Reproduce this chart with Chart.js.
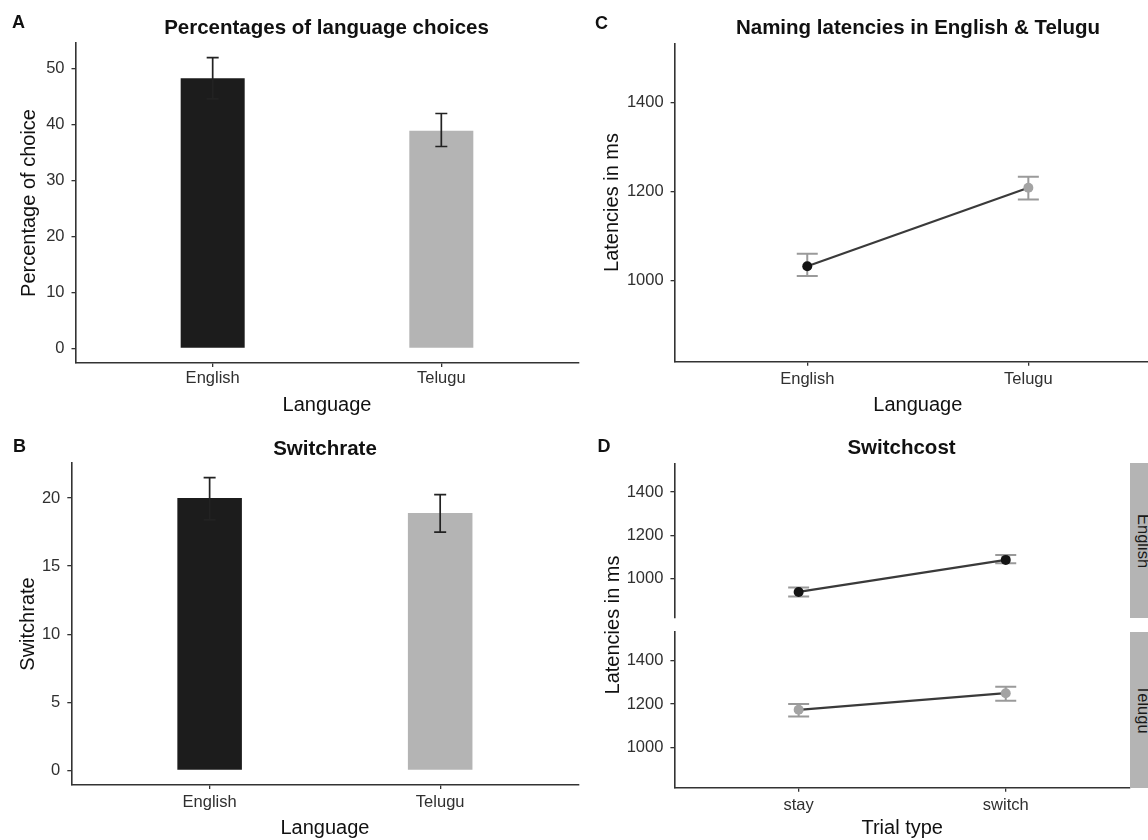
<!DOCTYPE html>
<html lang="en">
<head>
<meta charset="UTF-8">
<title>Language choices, switchrate and latencies</title>
<script src="https://cdn.jsdelivr.net/npm/chart.js"></script>
<style>
  html, body { margin: 0; padding: 0; background: #fff; overflow: hidden; }
  #fig { position: relative; width: 1148px; height: 840px; overflow: hidden;
         font-family: 'Liberation Sans', Arial, sans-serif; color: #111; }
  #fig canvas { position: absolute; }
  .lbl { position: absolute; transform: translate(-50%, -50%); line-height: 1; white-space: nowrap; }
  .letter { font-size: 18px; font-weight: bold; }
  .title { font-size: 20.5px; font-weight: bold; }
  .ytitle { font-size: 20px; transform: translate(-50%, -50%) rotate(-90deg); }
  .strip { position: absolute; left: 1130px; width: 27px; background: #b4b4b4;
           display: flex; align-items: center; justify-content: center; }
  .strip span { writing-mode: vertical-rl; font-size: 16.5px; color: #1a1a1a; line-height: 1; }
</style>
</head>
<body>
<div id="fig">
  <canvas id="cA" width="600" height="420" style="left:0;top:0"></canvas>
  <canvas id="cB" width="600" height="420" style="left:0;top:420px"></canvas>
  <canvas id="cC" width="600" height="420" style="left:574px;top:0"></canvas>
  <canvas id="cD1" width="574" height="220" style="left:574px;top:420px"></canvas>
  <canvas id="cD2" width="574" height="228" style="left:574px;top:612px"></canvas>

  <div class="lbl letter" style="left:18.5px;top:21.5px">A</div>
  <div class="lbl letter" style="left:19.5px;top:446px">B</div>
  <div class="lbl letter" style="left:601.5px;top:22.5px">C</div>
  <div class="lbl letter" style="left:604px;top:446px">D</div>

  <div class="lbl title" style="left:326.5px;top:26.5px">Percentages of language choices</div>
  <div class="lbl title" style="left:325px;top:447.5px">Switchrate</div>
  <div class="lbl title" style="left:918px;top:26.5px">Naming latencies in English &amp; Telugu</div>
  <div class="lbl title" style="left:901.5px;top:447px">Switchcost</div>

  <div class="lbl ytitle" style="left:612.4px;top:625px">Latencies in ms</div>

  <div class="strip" style="top:463.3px;height:154.7px"><span>English</span></div>
  <div class="strip" style="top:631.5px;height:156.2px"><span>Telugu</span></div>
</div>

<script>
// A - percentage of language choices
const languages = ['English', 'Telugu'];
const choicePct = [48.3, 38.9];
const choiceLow = [44.6, 36.1];
const choiceHigh = [52.0, 42.0];

// B - switchrate
const switchRate = [20.0, 18.9];
const switchLow = [18.4, 17.5];
const switchHigh = [21.5, 20.25];

// C - naming latencies
const namingRT = [1032, 1208];
const namingLow = [1010, 1182];
const namingHigh = [1060, 1233];

// D - switchcost per language
const trialTypes = ['stay', 'switch'];
const costEnglish = [938, 1086];
const costEnglishLow = [917, 1071];
const costEnglishHigh = [958, 1109];
const costTelugu = [1174, 1250];
const costTeluguLow = [1143, 1216];
const costTeluguHigh = [1201, 1280];

// tick labels
const pctTicks = [0, 10, 20, 30, 40, 50];
const rateTicks = [0, 5, 10, 15, 20];
const latTicks = [1000, 1200, 1400];

const barColors = ['#1c1c1c', '#b4b4b4'];
const pointColors = ['#141414', '#a3a3a3'];

Chart.defaults.font.family = "'Liberation Sans', Arial, sans-serif";

// error bars drawn from low/high arrays through the chart scales
const errorBars = {
  id: 'errorBars',
  beforeDatasetsDraw(chart, args, o) { if (o.layer === 'below') drawErrors(chart, o); },
  afterDatasetsDraw(chart, args, o) { if (o.layer !== 'below') drawErrors(chart, o); }
};
function drawErrors(chart, o) {
  const { ctx, scales: { x, y } } = chart;
  ctx.save();
  ctx.strokeStyle = o.color;
  ctx.lineWidth = o.width;
  o.low.forEach((lo, i) => {
    const px = x.getPixelForValue(i + 1);
    const p1 = y.getPixelForValue(lo);
    const p2 = y.getPixelForValue(o.high[i]);
    const h = o.cap / 2;
    ctx.beginPath();
    ctx.moveTo(px, p1); ctx.lineTo(px, p2);
    ctx.moveTo(px - h, p1); ctx.lineTo(px + h, p1);
    ctx.moveTo(px - h, p2); ctx.lineTo(px + h, p2);
    ctx.stroke();
  });
  ctx.restore();
}

const axisGrid = { drawOnChartArea: false, drawTicks: true, tickLength: 4, color: '#333', lineWidth: 1.3, offset: false };
const axisBorder = { display: true, color: '#333', width: 1.6 };

function xScale(labels, o) {
  const s = {
    type: 'linear', min: 0.4, max: 2.6, offset: false,
    display: o.display !== false,
    afterBuildTicks: sc => { sc.ticks = labels.map((_, i) => ({ value: i + 1 })); },
    ticks: { callback: (v, i) => labels[i], font: { size: 16.5 }, color: '#303030', padding: o.tickPad, maxRotation: 0 },
    grid: axisGrid,
    border: axisBorder,
    title: { display: !!o.title, text: o.title, font: { size: 20 }, color: '#111', padding: { top: 0, bottom: o.titlePad } }
  };
  if (o.display !== false) s.afterFit = sc => { sc.height = o.height; };
  return s;
}

function yScale(tickVals, min, max, o) {
  return {
    type: 'linear', min, max,
    afterBuildTicks: sc => { sc.ticks = tickVals.map(v => ({ value: v })); },
    afterFit: sc => { sc.width = o.width; },
    ticks: { callback: v => String(v), font: { size: 16.5 }, color: '#303030', padding: 7 },
    grid: axisGrid,
    border: axisBorder,
    title: { display: !!o.title, text: o.title, font: { size: 20 }, color: '#111', padding: { top: o.titlePad, bottom: 0 } }
  };
}

function opts(padding, x, y, err) {
  return {
    responsive: false, animation: false, events: [],
    layout: { padding },
    plugins: { legend: { display: false }, tooltip: { enabled: false }, errorBars: err },
    scales: { x, y }
  };
}

function barData(vals) {
  return { datasets: [{ data: vals.map((v, i) => ({ x: i + 1, y: v })), backgroundColor: barColors,
    borderWidth: 0, barPercentage: 0.28, categoryPercentage: 1 }] };
}
function lineData(vals, colors) {
  return { datasets: [{ data: vals.map((v, i) => ({ x: i + 1, y: v })), borderColor: '#3a3a3a', borderWidth: 2.2,
    tension: 0, pointRadius: 5, pointBorderWidth: 0, pointBackgroundColor: colors, pointBorderColor: colors }] };
}

// A
new Chart(document.getElementById('cA'), {
  type: 'bar',
  data: barData(choicePct),
  options: opts({ top: 43, right: 21.5, left: 0, bottom: 0 },
    xScale(languages, { height: 57, tickPad: 2, title: 'Language', titlePad: 3 }),
    yScale(pctTicks, -2.6, 54.6, { width: 75.5, title: 'Percentage of choice', titlePad: 17 }),
    { low: choiceLow, high: choiceHigh, color: '#222', width: 1.7, cap: 12 }),
  plugins: [errorBars]
});

// B
new Chart(document.getElementById('cB'), {
  type: 'bar',
  data: barData(switchRate),
  options: opts({ top: 43, right: 21.5, left: 0, bottom: 0 },
    xScale(languages, { height: 55, tickPad: 4, title: 'Language', titlePad: 0 }),
    yScale(rateTicks, -1.075, 22.575, { width: 71.3, title: 'Switchrate', titlePad: 16.5 }),
    { low: switchLow, high: switchHigh, color: '#222', width: 1.7, cap: 12 }),
  plugins: [errorBars]
});

// C
new Chart(document.getElementById('cC'), {
  type: 'line',
  data: lineData(namingRT, pointColors),
  options: opts({ top: 43.3, right: 13, left: 0, bottom: 0 },
    xScale(languages, { height: 58.3, tickPad: 3.4, title: 'Language', titlePad: 3 }),
    yScale(latTicks, 817.5, 1532.5, { width: 100.6, title: 'Latencies in ms', titlePad: 26.4 }),
    { low: namingLow, high: namingHigh, color: '#9a9a9a', width: 2, cap: 21, layer: 'below' }),
  plugins: [errorBars]
});

// D - English facet
new Chart(document.getElementById('cD1'), {
  type: 'line',
  data: lineData(costEnglish, pointColors[0]),
  options: opts({ top: 43.3, right: 18, left: 0, bottom: 22 },
    xScale(trialTypes, { display: false }),
    yScale(latTicks, 817.5, 1532.5, { width: 100.4 }),
    { low: costEnglishLow, high: costEnglishHigh, color: '#9a9a9a', width: 2, cap: 21, layer: 'below' }),
  plugins: [errorBars]
});

// D - Telugu facet
new Chart(document.getElementById('cD2'), {
  type: 'line',
  data: lineData(costTelugu, pointColors[1]),
  options: opts({ top: 19.5, right: 18, left: 0, bottom: 0 },
    xScale(trialTypes, { height: 52.3, tickPad: 4.1, title: 'Trial type', titlePad: 0 }),
    yScale(latTicks, 817.5, 1532.5, { width: 100.4 }),
    { low: costTeluguLow, high: costTeluguHigh, color: '#9a9a9a', width: 2, cap: 21, layer: 'below' }),
  plugins: [errorBars]
});
</script>
</body>
</html>
